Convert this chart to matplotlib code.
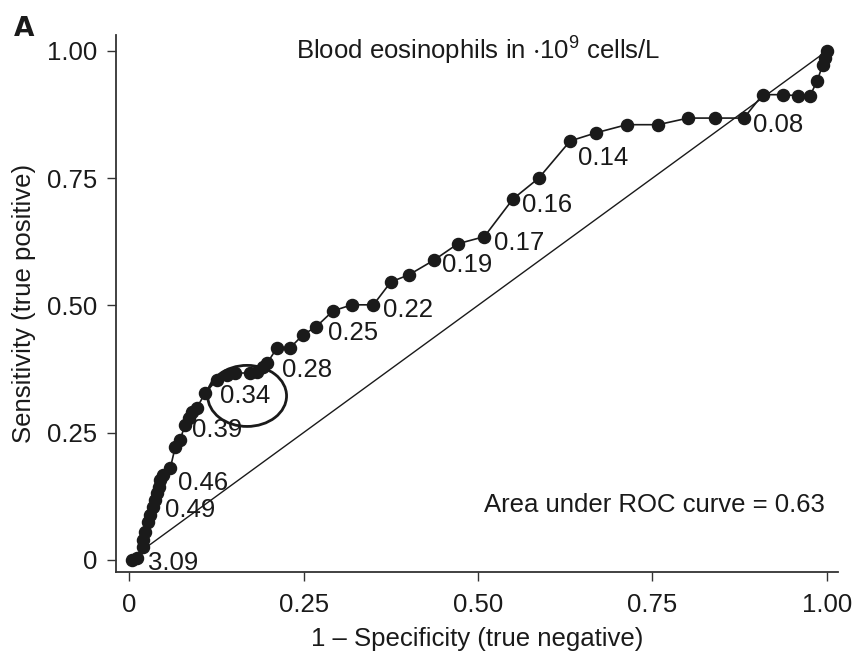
import numpy as np
import matplotlib
matplotlib.use('Agg')
import matplotlib.pyplot as plt
from matplotlib.patches import Ellipse

plt.rcParams['font.family'] = ['Liberation Sans', 'DejaVu Sans']
plt.rcParams['mathtext.fontset'] = 'custom'
plt.rcParams['mathtext.rm'] = 'Liberation Sans'
plt.rcParams['mathtext.default'] = 'regular'
plt.rcParams['font.size'] = 18.5

# ROC points (1 - specificity, sensitivity)
fpr = [0.004, 0.011, 0.020, 0.020, 0.023, 0.027, 0.030, 0.034, 0.037, 0.040,
       0.042, 0.044, 0.049, 0.059, 0.066, 0.073, 0.080, 0.085, 0.090, 0.097,
       0.109, 0.126, 0.140, 0.152, 0.173, 0.183, 0.192, 0.198, 0.212, 0.231,
       0.249, 0.268, 0.292, 0.319, 0.350, 0.375, 0.401, 0.437, 0.471, 0.509,
       0.550, 0.587, 0.632, 0.669, 0.713, 0.758, 0.801, 0.840, 0.881, 0.908,
       0.937, 0.958, 0.976, 0.986, 0.994, 0.997, 1.000]
tpr = [0.000, 0.004, 0.026, 0.039, 0.055, 0.075, 0.088, 0.104, 0.118, 0.132,
       0.143, 0.157, 0.167, 0.181, 0.222, 0.236, 0.265, 0.279, 0.291, 0.299,
       0.328, 0.354, 0.363, 0.367, 0.367, 0.369, 0.379, 0.387, 0.417, 0.417,
       0.442, 0.458, 0.489, 0.501, 0.501, 0.546, 0.560, 0.589, 0.621, 0.635,
       0.709, 0.750, 0.823, 0.839, 0.855, 0.855, 0.868, 0.868, 0.868, 0.914,
       0.914, 0.912, 0.912, 0.941, 0.972, 0.986, 1.000]

# cut-off labels: text, index of point, offset in pixels
cut_labels = ['3.09', '0.49', '0.46', '0.39', '0.28', '0.25', '0.22',
              '0.19', '0.17', '0.16', '0.14', '0.08']
cut_index = [1, 8, 13, 16, 27, 31, 34, 37, 39, 40, 42, 48]
cut_offset = [(11, -5), (10, -10), (8, -15), (7, -5), (15, -7), (12, -6),
              (10, -5), (8, -5), (10, -6), (9, -6), (8, -17), (9, -7)]

auc = 0.63
ticks = [0, 0.25, 0.5, 0.75, 1.0]
tick_labels = ['0', '0.25', '0.50', '0.75', '1.00']

ink = '#1a1a1a'
fig = plt.figure(figsize=(8.56, 6.63), dpi=100)
ax = fig.add_axes([0.1355, 0.1373, 0.8435, 0.8097])

ax.plot([0, 1], [0, 1], color=ink, lw=1.0, zorder=1)
ax.plot(fpr, tpr, color=ink, lw=1.2, marker='o', ms=8.7, zorder=2)

for lab, i, (dx, dy) in zip(cut_labels, cut_index, cut_offset):
    ax.annotate(lab, xy=(fpr[i], tpr[i]), xytext=(dx, dy),
                textcoords='offset pixels', ha='left', va='center', color=ink)

# highlighted cut-off
ax.add_patch(Ellipse((0.169, 0.322), 0.113, 0.120, fill=False, lw=2.0,
                     color=ink, zorder=3))
ax.text(0.166, 0.322, '0.34', ha='center', va='center', color=ink)

ax.text(0.50, 1.0, r'Blood eosinophils in $\cdot$10$^9$ cells/L',
        ha='center', va='center', color=ink)
ax.text(0.997, 0.108, f'Area under ROC curve = {auc:.2f}',
        ha='right', va='center', color=ink)

ax.set_xlim(-0.019, 1.016)
ax.set_ylim(-0.024, 1.031)
ax.set_xticks(ticks)
ax.set_xticklabels(tick_labels)
ax.set_yticks(ticks)
ax.set_yticklabels(tick_labels)
ax.spines['top'].set_visible(False)
ax.spines['right'].set_visible(False)
for s in ['left', 'bottom']:
    ax.spines[s].set_linewidth(1.3)
    ax.spines[s].set_color('#333333')
ax.tick_params(direction='out', length=6.5, width=1.0, colors='#333333',
               labelcolor=ink, pad=7)
ax.tick_params(axis='x', pad=9)

ax.set_xlabel('1 \u2013 Specificity (true negative)', color=ink, labelpad=7)
ax.set_ylabel('Sensitivity (true positive)', color=ink, labelpad=8)

fig.text(0.016, 0.957, 'A', fontsize=19, fontweight='bold', color=ink,
         family='DejaVu Sans', ha='left', va='center')

fig.savefig('out.png', dpi=100)
